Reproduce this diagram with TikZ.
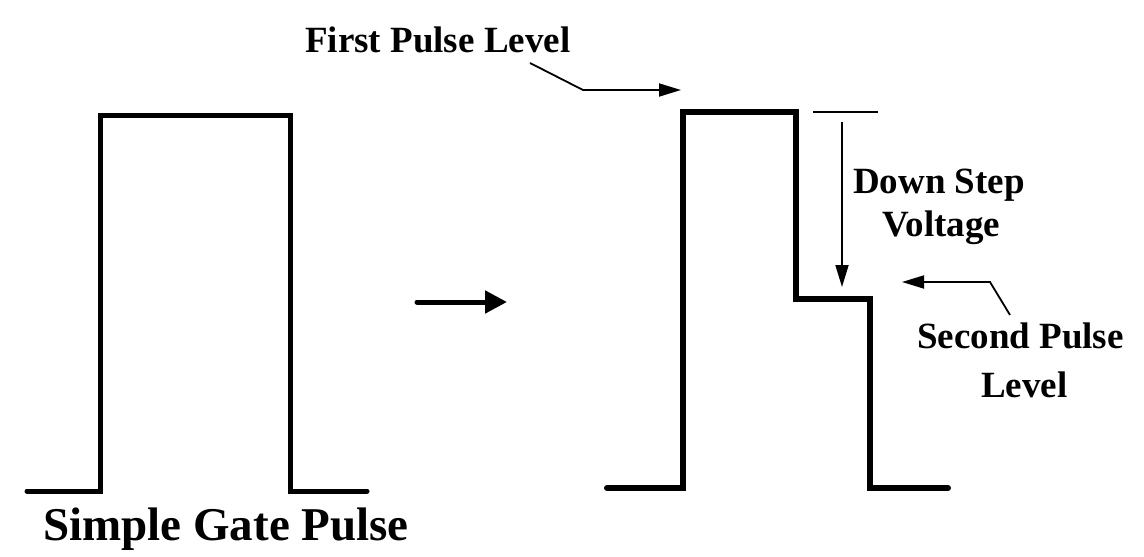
\documentclass[tikz,border=0pt]{standalone}
\usepackage{fontspec}
\setmainfont{Liberation Serif}
\usetikzlibrary{arrows.meta}
\tikzset{
  pulse/.style={line width=5pt, line cap=round, line join=miter},
  pulsetwo/.style={line width=6pt, line cap=round, line join=miter},
  pointer/.style={line width=1.8pt, -{Triangle[length=22pt,width=13pt]}},
  bigarrow/.style={line width=5pt, line cap=round, -{Triangle[length=22pt,width=22pt]}},
  lbl/.style={font=\fontsize{37}{43}\selectfont\bfseries, inner sep=0pt, anchor=base west},
  refline/.style={line width=1.5pt}
}
\begin{document}
\begin{tikzpicture}[x=1pt,y=-1pt]
\useasboundingbox (0,0) rectangle (1144,557);
% left simple pulse
\coordinate (a0) at (27,491);
\coordinate (a1) at (100,491);
\coordinate (a2) at (100,115);
\coordinate (a3) at (290,115);
\coordinate (a4) at (290,491);
\coordinate (a5) at (367,491);
\draw[pulse] (a0) -- (a1) -- (a2) -- (a3) -- (a4) -- (a5);
\node[lbl, font=\fontsize{47}{50}\selectfont\bfseries] (title) at (43,540) {Simple Gate Pulse};
% middle arrow
\coordinate (m0) at (417,302);
\coordinate (m1) at (507,302);
\draw[bigarrow] (m0) -- (m1);
% right stepped pulse
\coordinate (b0) at (607,488);
\coordinate (b1) at (683,488);
\coordinate (b2) at (683,112);
\coordinate (b3) at (796,112);
\coordinate (b4) at (796,299);
\coordinate (b5) at (870,299);
\coordinate (b6) at (870,488);
\coordinate (b7) at (948,488);
\draw[pulsetwo] (b0) -- (b1) -- (b2) -- (b3) -- (b4) -- (b5) -- (b6) -- (b7);
% reference line and down step arrow
\coordinate (r0) at (813,112);
\coordinate (r1) at (878,112);
\draw[refline] (r0) -- (r1);
\coordinate (d0) at (842,122);
\coordinate (d1) at (842,287);
\draw[pointer] (d0) -- (d1);
\node[lbl] (down) at (853,193) {Down Step};
\node[lbl] (volt) at (882,236) {Voltage};
% first pulse level
\node[lbl] (first) at (305,52) {First Pulse Level};
\coordinate (f0) at (530,63);
\coordinate (f1) at (583,90);
\coordinate (f2) at (681,90);
\draw[pointer] (f0) -- (f1) -- (f2);
% second pulse level
\node[lbl] (second) at (917,348) {Second Pulse};
\node[lbl] (level) at (981,397) {Level};
\coordinate (s0) at (1010,315);
\coordinate (s1) at (990,282);
\coordinate (s2) at (902,282);
\draw[pointer] (s0) -- (s1) -- (s2);
\end{tikzpicture}
\end{document}
